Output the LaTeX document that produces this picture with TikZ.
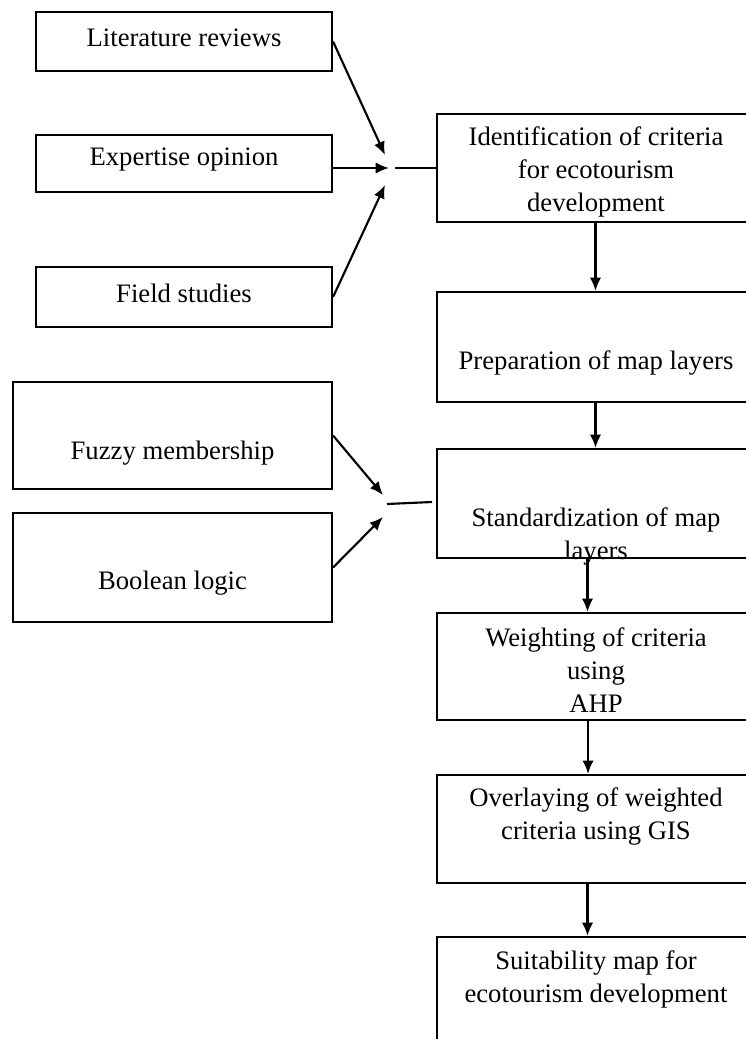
\documentclass[tikz,border=0pt]{standalone}
\usepackage{fontspec}
\setmainfont{Liberation Serif}
\usetikzlibrary{arrows.meta}

\def\px{0.75pt}

\begin{document}
\begin{tikzpicture}[x=0.75pt, y=-0.75pt,
    every node/.style={font=\fontsize{20}{24.75}\selectfont},
    box/.style={draw, line width=1.6pt, inner sep=0pt},
    txt/.style={align=center, inner sep=0pt},
    arrow/.style={line width=1.6pt, -{Latex[length=10pt, width=8.5pt]}},
    link/.style={line width=1.6pt}]
    % Page frame
    \useasboundingbox (0,0) rectangle (746,1039);
    \clip (0,0) rectangle (746,1039);

    % Input boxes on the left
    \node[box, minimum width=296*\px, minimum height=59*\px] (lit) at (184,41.5) {};
    \node[box, minimum width=296*\px, minimum height=57*\px] (exp) at (184,163.5) {};
    \node[box, minimum width=296*\px, minimum height=60*\px] (field) at (184,297) {};
    \node[box, minimum width=319*\px, minimum height=107*\px] (fuzzy) at (172.5,435.5) {};
    \node[box, minimum width=319*\px, minimum height=109*\px] (bool) at (172.5,567.5) {};

    \node[txt] (lit-txt) at (184,38) {Literature reviews};
    \node[txt] (exp-txt) at (184,160) {Expertise opinion};
    \node[txt] (field-txt) at (184,293) {Field studies};
    \node[txt] (fuzzy-txt) at (172.5,453) {Fuzzy membership};
    \node[txt] (bool-txt) at (172.5,583) {Boolean logic};

    % Main steps on the right
    \node[box, minimum width=317*\px, minimum height=108*\px] (ident) at (595.5,168) {};
    \node[box, minimum width=317*\px, minimum height=110*\px] (prep) at (595.5,347) {};
    \node[box, minimum width=317*\px, minimum height=109*\px] (stand) at (595.5,503.5) {};
    \node[box, minimum width=317*\px, minimum height=107*\px] (weight) at (595.5,666.5) {};
    \node[box, minimum width=317*\px, minimum height=108*\px] (overlay) at (595.5,829) {};
    \node[box, minimum width=317*\px, minimum height=108*\px] (suit) at (595.5,991) {};

    \node[txt] (ident-txt) at (596,171.5) {Identification of criteria\\for ecotourism\\development};
    \node[txt] (prep-txt) at (596,363) {Preparation of map layers};
    \node[txt] (stand-txt) at (596,536) {Standardization of map\\layers};
    \node[txt] (weight-txt) at (596,670.5) {Weighting of criteria\\using\\AHP};
    \node[txt] (overlay-txt) at (596,816) {Overlaying of weighted\\criteria using GIS};
    \node[txt] (suit-txt) at (596,979) {Suitability map for\\ecotourism development};

    % Meeting points of the inputs
    \coordinate (inA) at (385,155);
    \coordinate (inB) at (389,168);
    \coordinate (inC) at (385,185);
    \coordinate (outA) at (395,168);
    \coordinate (inD) at (383,495);
    \coordinate (inE) at (383,517);
    \coordinate (outB) at (387,504);
    \coordinate (outC) at (432,502);

    % Inputs
    \draw[arrow] (lit.east) -- (inA);
    \draw[arrow] (exp.east |- inB) -- (inB);
    \draw[arrow] (field.east) -- (inC);
    \draw[link] (outA) -- (ident.west);
    \draw[arrow] (fuzzy.east) -- (inD);
    \draw[arrow] (bool.east) -- (inE);
    \draw[link] (outB) -- (outC);

    % Flow down the right column
    \draw[arrow] (ident.south) -- (prep.north);
    \draw[arrow] (prep.south) -- (stand.north);
    \draw[arrow] ([xshift=-6pt]stand.south) -- ([xshift=-6pt]weight.north);
    \draw[arrow] ([xshift=-5.6pt]weight.south) -- ([xshift=-5.6pt]overlay.north);
    \draw[arrow] ([xshift=-6pt]overlay.south) -- ([xshift=-6pt]suit.north);
\end{tikzpicture}
\end{document}
